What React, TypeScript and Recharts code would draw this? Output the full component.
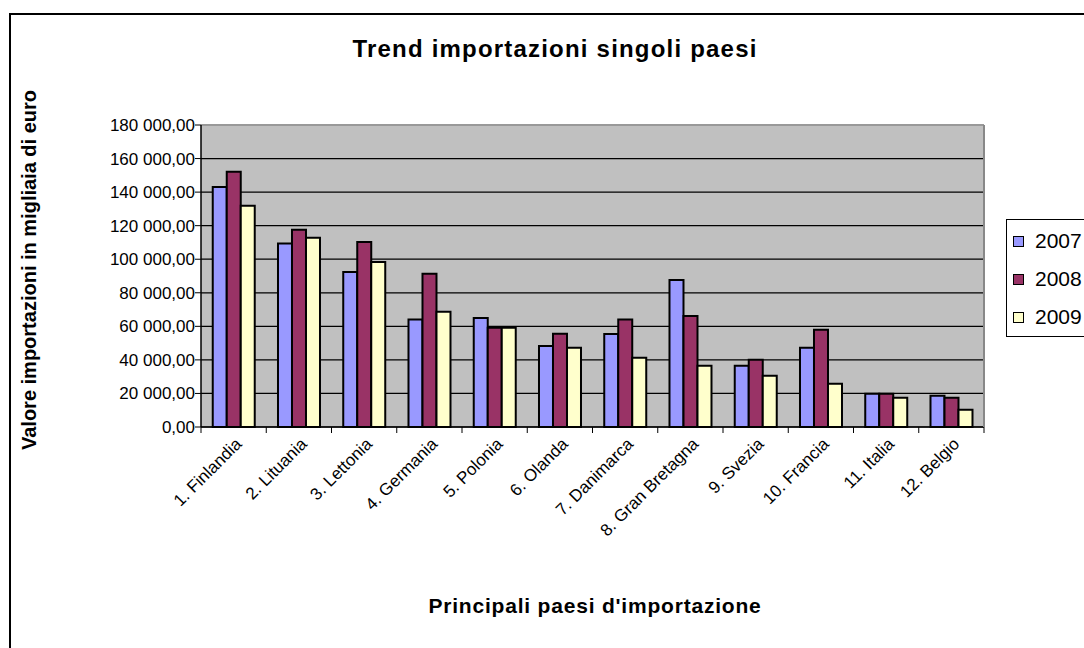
import React from 'react';
import { BarChart, Bar, XAxis, YAxis, CartesianGrid, ReferenceLine } from 'recharts';

const categories = [
  '1. Finlandia',
  '2. Lituania',
  '3. Lettonia',
  '4. Germania',
  '5. Polonia',
  '6. Olanda',
  '7. Danimarca',
  '8. Gran Bretagna',
  '9. Svezia',
  '10. Francia',
  '11. Italia',
  '12. Belgio',
];

const values2007 = [143000, 109300, 92400, 64000, 65000, 48300, 55400, 87600, 36500, 47300, 19800, 18700];
const values2008 = [152200, 117600, 110300, 91400, 59200, 55600, 64000, 66200, 40100, 58000, 19800, 17500];
const values2009 = [131900, 112800, 98300, 68700, 59200, 47300, 41300, 36500, 30600, 25800, 17500, 10300];

const seriesNames = ['2007', '2008', '2009'];
const yTicks = [0, 20000, 40000, 60000, 80000, 100000, 120000, 140000, 160000, 180000];

const colors: Record<string, string> = { '2007': '#9999FF', '2008': '#993366', '2009': '#FFFFCC' };

const data = categories.map((name, i) => ({
  name,
  '2007': values2007[i],
  '2008': values2008[i],
  '2009': values2009[i],
}));

const font = '"Liberation Sans", Arial, sans-serif';

const fmt = (v: number) =>
  Math.round(v).toString().replace(/\B(?=(\d{3})+(?!\d))/g, ' ') + ',00';

const XTick = (props: any) => {
  const { x, y, payload, index } = props;
  const half = payload.offset ?? 0;
  return (
    <g>
      <line x1={x - half} x2={x - half} y1={y - 6} y2={y} stroke="#000" />
      {index === categories.length - 1 && (
        <line x1={x + half} x2={x + half} y1={y - 6} y2={y} stroke="#000" />
      )}
      <text
        x={x}
        y={y + 3}
        dy="0.75em"
        textAnchor="end"
        transform={`rotate(-45 ${x} ${y + 3})`}
        fontSize={17}
        fontFamily={font}
        fill="#000"
      >
        {payload.value}
      </text>
    </g>
  );
};

export default function App() {
  return (
    <div
      style={{
        position: 'absolute',
        left: 0,
        top: 0,
        width: 1084,
        height: 648,
        overflow: 'hidden',
        background: '#fff',
        fontFamily: font,
      }}
    >
      <div
        style={{
          position: 'absolute',
          left: 9,
          top: 13,
          width: 1200,
          height: 800,
          borderLeft: '2px solid #000',
          borderTop: '2px solid #000',
        }}
      />
      <div
        style={{
          position: 'absolute',
          left: 555,
          top: 49,
          transform: 'translate(-50%, -50%)',
          whiteSpace: 'nowrap',
          fontWeight: 'bold',
          fontSize: 24,
          letterSpacing: 1.2,
        }}
      >
        Trend importazioni singoli paesi
      </div>
      <div
        style={{
          position: 'absolute',
          left: 29,
          top: 270,
          transform: 'translate(-50%, -50%) rotate(-90deg)',
          whiteSpace: 'nowrap',
          fontWeight: 'bold',
          fontSize: 20,
        }}
      >
        Valore importazioni in migliaia di euro
      </div>
      <div
        style={{
          position: 'absolute',
          left: 595,
          top: 606,
          transform: 'translate(-50%, -50%)',
          whiteSpace: 'nowrap',
          fontWeight: 'bold',
          fontSize: 21,
          letterSpacing: 0.8,
        }}
      >
        Principali paesi d'importazione
      </div>

      <div style={{ position: 'absolute', left: 0, top: 0 }}>
        <BarChart
          width={1084}
          height={648}
          data={data}
          margin={{ top: 125, right: 99, bottom: 0, left: 0 }}
          barCategoryGap="18%"
          barGap={0}
        >
          <CartesianGrid vertical={false} fill="#C0C0C0" stroke="#000" strokeWidth={1.2} />
          <XAxis
            dataKey="name"
            interval={0}
            height={221}
            tick={<XTick />}
            tickLine={false}
            tickSize={6}
            tickMargin={0}
            axisLine={{ stroke: '#000', strokeWidth: 1.5 }}
          />
          <YAxis
            width={201}
            domain={[0, 180000]}
            ticks={yTicks}
            interval={0}
            tickFormatter={fmt}
            tick={{ fontSize: 17, fill: '#000', fontFamily: font }}
            tickLine={{ stroke: '#000' }}
            tickSize={6}
            tickMargin={0}
            axisLine={{ stroke: '#000', strokeWidth: 1.5 }}
          />
          <YAxis
            yAxisId="r"
            orientation="right"
            width={1}
            domain={[0, 180000]}
            tick={false}
            tickLine={false}
            axisLine={{ stroke: '#888', strokeWidth: 2 }}
          />
          <ReferenceLine y={180000} stroke="#999" strokeWidth={2} />
          {seriesNames.map((s) => (
            <Bar
              key={s}
              dataKey={s}
              fill={colors[s]}
              stroke="#000"
              strokeWidth={2}
              isAnimationActive={false}
            />
          ))}
        </BarChart>
      </div>

      <div
        style={{
          position: 'absolute',
          left: 1006,
          top: 219,
          width: 120,
          height: 116,
          border: '1px solid #000',
          background: '#fff',
        }}
      >
        {seriesNames.map((s, i) => (
          <div
            key={s}
            style={{
              position: 'absolute',
              left: 6,
              top: 8 + i * 38,
              height: 26,
              display: 'flex',
              alignItems: 'center',
              fontSize: 21,
              whiteSpace: 'nowrap',
            }}
          >
            <span
              style={{
                display: 'inline-block',
                width: 9,
                height: 9,
                background: colors[s],
                border: '1px solid #000',
                marginRight: 11,
              }}
            />
            {s}
          </div>
        ))}
      </div>
    </div>
  );
}
